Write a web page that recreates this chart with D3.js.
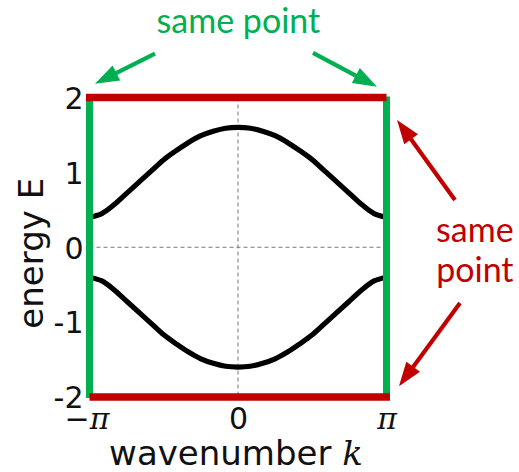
<!DOCTYPE html>
<html>
<head>
<meta charset="utf-8">
<script src="https://cdn.jsdelivr.net/npm/d3@7"></script>
<style>
  html, body { margin: 0; padding: 0; background: #fff; }
  svg { display: block; }
</style>
</head>
<body>
<svg id="chart" width="519" height="472"></svg>
<script>
// Two-band dispersion E(k) over the first Brillouin zone, k in units of pi
const kSamples = [-1, -11/12, -10/12, -9/12, -8/12, -7/12, -6/12, -5/12, -4/12, -3/12, -2/12, -1/12,
                  0, 1/12, 2/12, 3/12, 4/12, 5/12, 6/12, 7/12, 8/12, 9/12, 10/12, 11/12, 1];
const upperBand = [0.40, 0.45, 0.57, 0.72, 0.87, 1.02, 1.17, 1.29, 1.40, 1.49, 1.55, 1.59,
                   1.60, 1.59, 1.55, 1.49, 1.40, 1.29, 1.17, 1.02, 0.87, 0.72, 0.57, 0.45, 0.40];
const lowerBand = [-0.40, -0.45, -0.57, -0.72, -0.87, -1.02, -1.17, -1.29, -1.40, -1.49, -1.55, -1.59,
                   -1.60, -1.59, -1.55, -1.49, -1.40, -1.29, -1.17, -1.02, -0.87, -0.72, -0.57, -0.45, -0.40];

const kTickValues = [-1, 0, 1];
const kTickLabels = ["\u2212\u03C0", "0", "\u03C0"];
const eTickValues = [2, 1, 0, -1, -2];
const eTickLabels = ["2", "1", "0", "-1", "-2"];

const kDomain = [-1, 1];
const eDomain = [-2, 2];

const GREEN = "#00b050";
const RED = "#c00000";

const svg = d3.select("#chart");

const x = d3.scaleLinear().domain(kDomain).range([89.5, 386.5]);
const y = d3.scaleLinear().domain(eDomain).range([397, 97.5]);

// dashed zero lines
const grid = svg.append("g")
  .attr("stroke", "#777")
  .attr("stroke-width", 1)
  .attr("stroke-dasharray", "4,3");
grid.append("line")
  .attr("x1", x(0)).attr("x2", x(0))
  .attr("y1", y(2)).attr("y2", y(-2));
grid.append("line")
  .attr("x1", x(-1)).attr("x2", x(1))
  .attr("y1", y(0)).attr("y2", y(0));

// bands
const line = d3.line()
  .x((d) => x(d[0]))
  .y((d) => y(d[1]))
  .curve(d3.curveCatmullRom.alpha(0.5));

[upperBand, lowerBand].forEach((band) => {
  svg.append("path")
    .datum(kSamples.map((k, i) => [k, band[i]]))
    .attr("fill", "none")
    .attr("stroke", "#000")
    .attr("stroke-width", 5.2)
    .attr("d", line);
});

// zone edges k = -pi and k = pi (identified)
const edges = svg.append("g").attr("stroke", GREEN).attr("stroke-width", 7);
kDomain.forEach((k) => {
  edges.append("line")
    .attr("x1", x(k)).attr("x2", x(k))
    .attr("y1", y(2) - 1).attr("y2", y(-2) + 1);
});

// energy bounds E = 2 and E = -2 (identified)
const bounds = svg.append("g").attr("stroke", RED).attr("stroke-width", 7.5);
bounds.append("line")
  .attr("x1", x(-1) - 3.5).attr("x2", x(1))
  .attr("y1", y(2)).attr("y2", y(2));
bounds.append("line")
  .attr("x1", x(-1)).attr("x2", x(1) + 3.5)
  .attr("y1", y(-2)).attr("y2", y(-2));

// axes (labels only, no domain line)
const xAxis = d3.axisBottom(x)
  .tickValues(kTickValues)
  .tickFormat((d, i) => kTickLabels[i])
  .tickSize(0)
  .tickPadding(0);
const gx = svg.append("g").attr("transform", `translate(0, ${y(-2)})`).call(xAxis);
gx.select(".domain").remove();
gx.selectAll("text")
  .attr("y", 32)
  .attr("dy", 0)
  .attr("dx", (d) => d < 0 ? -3 : 0)
  .attr("font-family", (d) => d === 0 ? "DejaVu Sans" : "'DejaVu Serif'")
  .attr("font-size", 30)
  .attr("fill", "#111")
  .attr("font-style", (d) => d === 0 ? "normal" : "italic");

const yAxis = d3.axisLeft(y)
  .tickValues(eTickValues)
  .tickFormat((d, i) => eTickLabels[i])
  .tickSize(0)
  .tickPadding(0);
const gy = svg.append("g").attr("transform", `translate(${x(-1)}, 0)`).call(yAxis);
gy.select(".domain").remove();
gy.selectAll("text")
  .attr("x", -6)
  .attr("dy", "0.36em")
  .attr("font-family", "DejaVu Sans")
  .attr("font-size", 30)
  .attr("fill", "#111");

// axis titles
const xTitle = svg.append("text")
  .attr("x", x(0) - 2)
  .attr("y", 465)
  .attr("text-anchor", "middle")
  .attr("font-family", "DejaVu Sans")
  .attr("font-size", 34)
  .attr("fill", "#111");
xTitle.append("tspan").text("wavenumber ");
xTitle.append("tspan").attr("font-style", "italic").attr("font-family", "'DejaVu Serif'").text("k");

svg.append("text")
  .attr("transform", `translate(43, ${y(0) + 6}) rotate(-90)`)
  .attr("text-anchor", "middle")
  .attr("font-family", "DejaVu Sans")
  .attr("font-size", 34)
  .attr("fill", "#111")
  .text("energy E");

// annotations (positions in data units: k in pi, E)
function arrow(color, tail, tip) {
  const x0 = x(tail[0]), y0 = y(tail[1]);
  const x1 = x(tip[0]), y1 = y(tip[1]);
  const ang = Math.atan2(y1 - y0, x1 - x0);
  const headLen = 24, headHalf = 8.5;
  const bx = x1 - headLen * Math.cos(ang), by = y1 - headLen * Math.sin(ang);
  svg.append("line")
    .attr("x1", x0).attr("y1", y0)
    .attr("x2", bx + 2 * Math.cos(ang)).attr("y2", by + 2 * Math.sin(ang))
    .attr("stroke", color).attr("stroke-width", 4.2);
  const px = -Math.sin(ang), py = Math.cos(ang);
  svg.append("path")
    .attr("d", `M${x1},${y1}L${bx + headHalf * px},${by + headHalf * py}L${bx - headHalf * px},${by - headHalf * py}Z`)
    .attr("fill", color);
}

const annotFont = "Lato, 'Open Sans', sans-serif";

svg.append("text")
  .attr("x", x(0.003)).attr("y", y(2.86))
  .attr("text-anchor", "middle")
  .attr("font-family", annotFont)
  .attr("font-size", 34)
  .attr("fill", GREEN)
  .text("same point");

arrow(GREEN, [-0.559, 2.587], [-0.963, 2.183]);
arrow(GREEN, [0.505, 2.597], [0.936, 2.142]);

const redText = svg.append("text")
  .attr("text-anchor", "middle")
  .attr("font-family", annotFont)
  .attr("font-size", 34)
  .attr("fill", RED);
redText.append("tspan").attr("x", x(1.595)).attr("y", y(0.07)).text("same");
redText.append("tspan").attr("x", x(1.595)).attr("y", y(-0.465)).text("point");

arrow(RED, [1.461, 0.632], [1.071, 1.701]);
arrow(RED, [1.495, -0.745], [1.084, -1.855]);
</script>
</body>
</html>
